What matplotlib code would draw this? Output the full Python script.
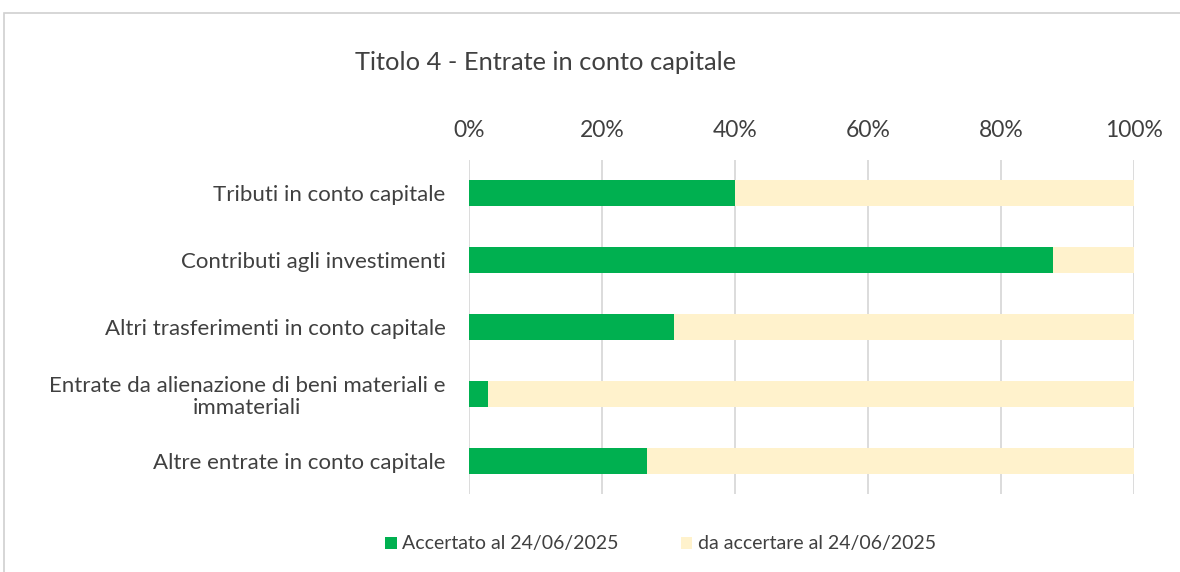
import numpy as np
import matplotlib.pyplot as plt
from matplotlib.patches import Rectangle

plt.rcParams['font.family'] = ['Lato', 'DejaVu Sans']

# data
categories = ["Tributi in conto capitale",
              "Contributi agli investimenti",
              "Altri trasferimenti in conto capitale",
              "Entrate da alienazione di beni materiali e\nimmateriali",
              "Altre entrate in conto capitale"]
accertato = [40.0, 87.8, 30.8, 2.9, 26.8]
da_accertare = [100 - v for v in accertato]
xticks = [0, 20, 40, 60, 80, 100]
xticklabels = ["0%", "20%", "40%", "60%", "80%", "100%"]

green = "#00B050"
beige = "#FFF2CC"
txt = "#404040"

fig = plt.figure(figsize=(11.8, 5.72), dpi=100)
ax = fig.add_axes([0.3975, 0.1355, 0.5635, 0.5855])

y = np.arange(len(categories))
ax.barh(y, accertato, height=0.4, color=green, label="Accertato al 24/06/2025", zorder=3)
ax.barh(y, da_accertare, left=accertato, height=0.4, color=beige,
        label="da accertare al 24/06/2025", zorder=3)

ax.set_ylim(len(categories) - 0.5, -0.5)
ax.set_xlim(0, 100)
ax.set_yticks(y)
ax.set_yticklabels(categories, fontsize=16, color=txt, linespacing=1.15)
for lbl in ax.get_yticklabels():
    lbl.set_multialignment('center')
ax.set_xticks(xticks)
ax.set_xticklabels(xticklabels, fontsize=16.5, color=txt)
ax.xaxis.tick_top()
ax.tick_params(axis='x', length=0, pad=13.5)
ax.tick_params(axis='y', length=0, pad=17)
ax.grid(axis='x', color="#D9D9D9", linewidth=1.3, zorder=0)
for s in ax.spines.values():
    s.set_visible(False)

fig.text(0.3008, 1 - 70 / 572, "Titolo 4 - Entrate in conto capitale", fontsize=18.3,
         color=txt, ha='left', va='baseline')

fig.legend(loc='center', bbox_to_anchor=(0.56, 0.049), ncol=2, frameon=False,
           fontsize=14, handlelength=0.57, handleheight=0.57, handletextpad=0.3,
           columnspacing=3.2, labelcolor=txt)

# chart border
fig.patches.append(Rectangle((4 / 1180, -0.01), 1.0, 1 - 13 / 572 + 0.01,
                             transform=fig.transFigure, fill=False,
                             edgecolor="#D0D0D0", linewidth=1.2))

fig.savefig("out.png", dpi=100, facecolor="white")
